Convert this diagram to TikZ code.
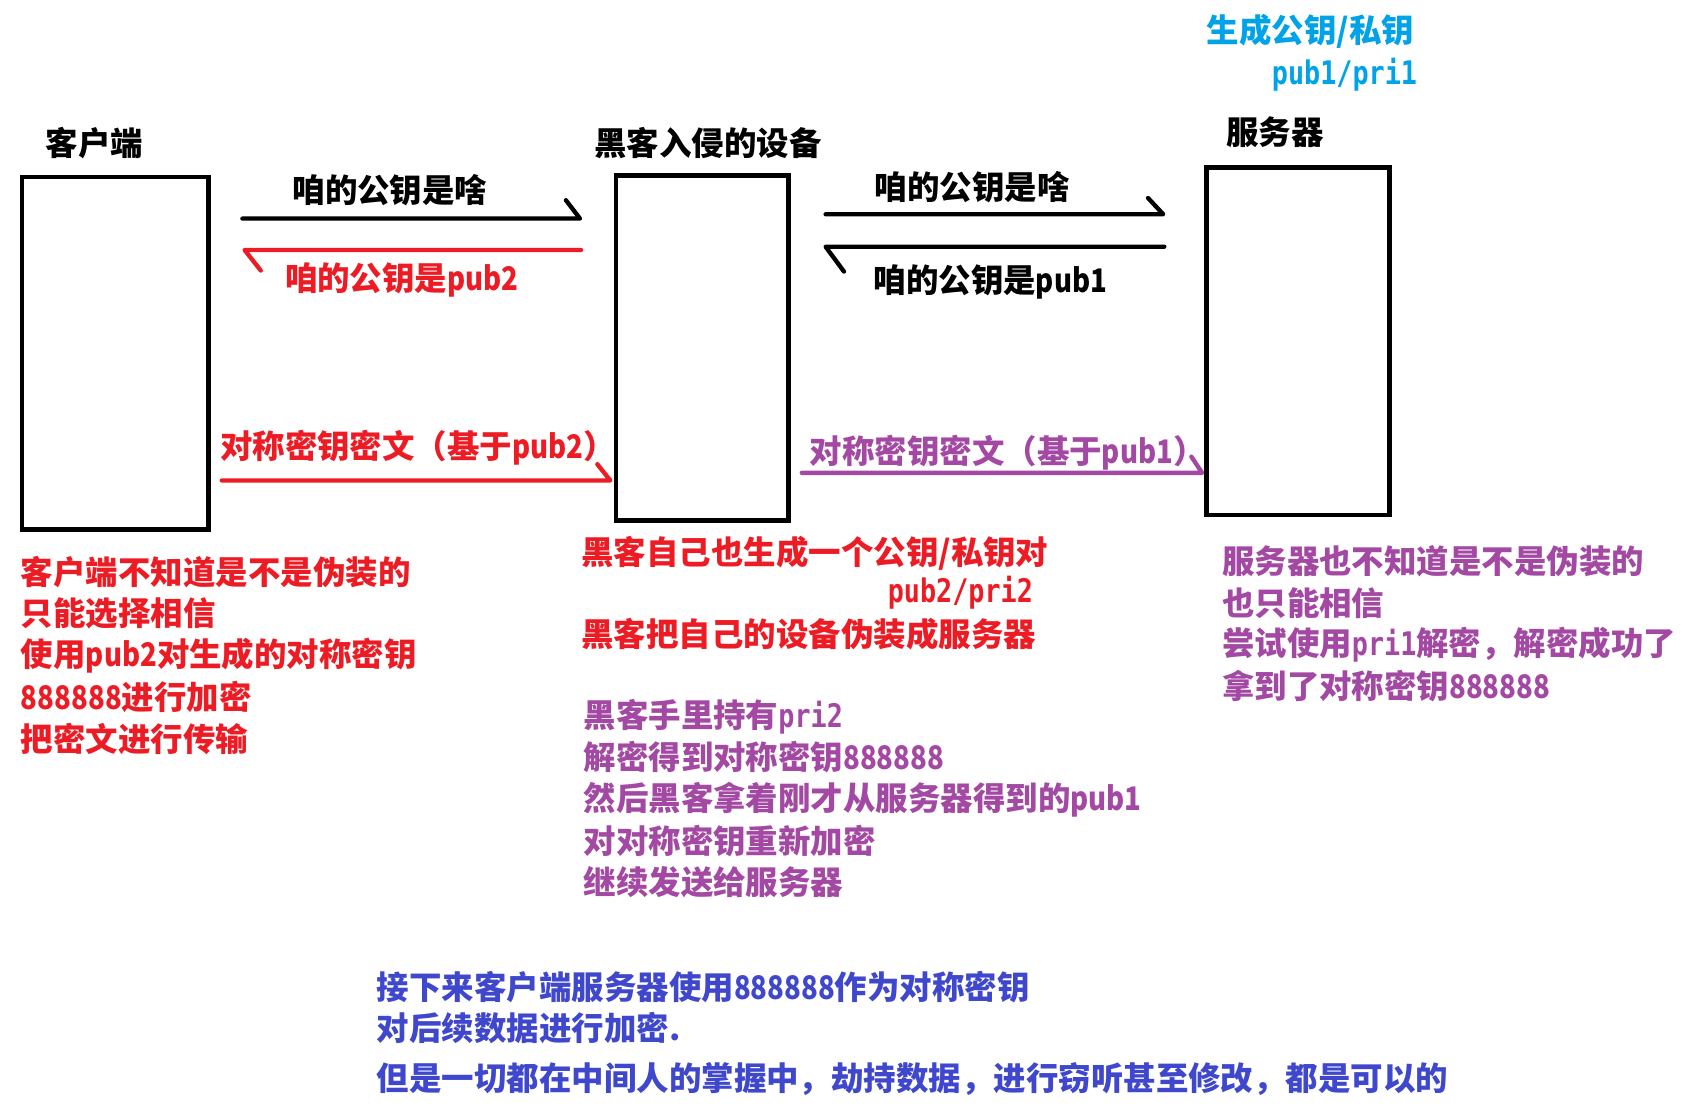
\documentclass[tikz,border=0pt]{standalone}
\usepackage{fontspec}
\setmainfont{Noto Sans CJK SC}
\newfontfamily\monof{DejaVu Sans Mono Bold}[FakeStretch=0.825]
\newfontfamily\latf{Noto Sans CJK SC}[FakeStretch=0.85]
\definecolor{pred}{HTML}{ED1C24}
\definecolor{ppurple}{HTML}{A349A4}
\definecolor{pblue}{HTML}{3F48CC}
\definecolor{pcyan}{HTML}{00A2E8}
\newcommand{\mt}[1]{{\monof #1}}
\newcommand{\lt}[1]{{\latf #1}}
\begin{document}
\begin{tikzpicture}[x=0.5pt,y=-0.5pt,
  txt/.style={anchor=west,inner sep=0pt,font=\fontsize{15}{18}\selectfont\bfseries},
  box/.style={draw=black,line width=2.1pt,inner sep=0pt},
  link/.style={line width=2pt,line cap=round,line join=round}]
\useasboundingbox (0,0) rectangle (1560,1024);

% boxes
\node[box,minimum width=86.1pt,minimum height=162.9pt] (client) at (106.6,326.5) {};
\node[box,minimum width=79.6pt,minimum height=159.5pt] (hacker) at (649,321.5) {};
\node[box,minimum width=84.5pt,minimum height=160.5pt] (server) at (1199.5,315.5) {};

% titles
\node[txt] (tclient) at (42,132) {客户端};
\node[txt] (thacker) at (549,132) {黑客入侵的设备};
\node[txt] (tserver) at (1133,122) {服务器};
\node[txt,text=pcyan] (gen) at (1115,29) {生成公钥/私钥};
\node[txt,text=pcyan,anchor=east] (genk) at (1310,69) {\mt{pub1/pri1}};

% arrow end coordinates
\coordinate (a1s) at (224,202); \coordinate (a1e) at (536,202);
\coordinate (a2s) at (537,231); \coordinate (a2e) at (226,231);
\coordinate (a3s) at (205,444); \coordinate (a3e) at (564,444);
\coordinate (b1s) at (763,198); \coordinate (b1e) at (1075,198);
\coordinate (b2s) at (1076,228); \coordinate (b2e) at (763,228);
\coordinate (b3s) at (741,437); \coordinate (b3e) at (1111,437);

\draw[link] (a1s) -- (a1e) -- ++(-13,-17);
\draw[link,pred] (a2s) -- (a2e) -- ++(15,19);
\draw[link,pred] (a3s) -- (a3e) -- ++(-12,-15);
\draw[link] (b1s) -- (b1e) -- ++(-14,-15);
\draw[link] (b2s) -- (b2e) -- ++(17,23);
\draw[link,ppurple] (b3s) -- (b3e) -- ++(-10,-15);

% arrow labels
\node[txt] (l1) at (270,176) {咱的公钥是啥};
\node[txt,text=pred] (l2) at (263,259) {咱的公钥是\lt{pub2}};
\node[txt,text=pred] (l3) at (203,414) {对称密钥密文（基于\lt{pub2}）};
\node[txt] (l4) at (808,173) {咱的公钥是啥};
\node[txt] (l5) at (807,261) {咱的公钥是\lt{pub1}};
\node[txt,text=ppurple] (l6) at (748,418) {对称密钥密文（基于\lt{pub1}）};

% client notes
\node[txt,text=pred] (c1) at (19,529) {客户端不知道是不是伪装的};
\node[txt,text=pred] (c2) at (19,567) {只能选择相信};
\node[txt,text=pred] (c3) at (19,606) {使用\lt{pub2}对生成的对称密钥};
\node[txt,text=pred] (c4) at (19,644) {\lt{888888}进行加密};
\node[txt,text=pred] (c5) at (19,683) {把密文进行传输};

% hacker notes
\node[txt,text=pred] (h1) at (537,511) {黑客自己也生成一个公钥/私钥对};
\node[txt,text=pred,anchor=east] (h2) at (955,548) {\mt{pub2/pri2}};
\node[txt,text=pred] (h3) at (537,586) {黑客把自己的设备伪装成服务器};
\node[txt,text=ppurple] (h4) at (539,662) {黑客手里持有\mt{pri2}};
\node[txt,text=ppurple] (h5) at (539,700) {解密得到对称密钥\lt{888888}};
\node[txt,text=ppurple] (h6) at (539,739) {然后黑客拿着刚才从服务器得到的\lt{pub1}};
\node[txt,text=ppurple] (h7) at (539,777) {对对称密钥重新加密};
\node[txt,text=ppurple] (h8) at (539,815) {继续发送给服务器};

% server notes
\node[txt,text=ppurple] (s1) at (1129,519) {服务器也不知道是不是伪装的};
\node[txt,text=ppurple] (s2) at (1129,557) {也只能相信};
\node[txt,text=ppurple] (s3) at (1129,596) {尝试使用\mt{pri1}解密，解密成功了};
\node[txt,text=ppurple] (s4) at (1129,634) {拿到了对称密钥\lt{888888}};

% bottom notes
\node[txt,text=pblue] (n1) at (348,912) {接下来客户端服务器使用\lt{888888}作为对称密钥};
\node[txt,text=pblue] (n2) at (348,950) {对后续数据进行加密.};
\node[txt,text=pblue] (n3) at (348,997) {但是一切都在中间人的掌握中，劫持数据，进行窃听甚至修改，都是可以的};
\end{tikzpicture}
\end{document}
